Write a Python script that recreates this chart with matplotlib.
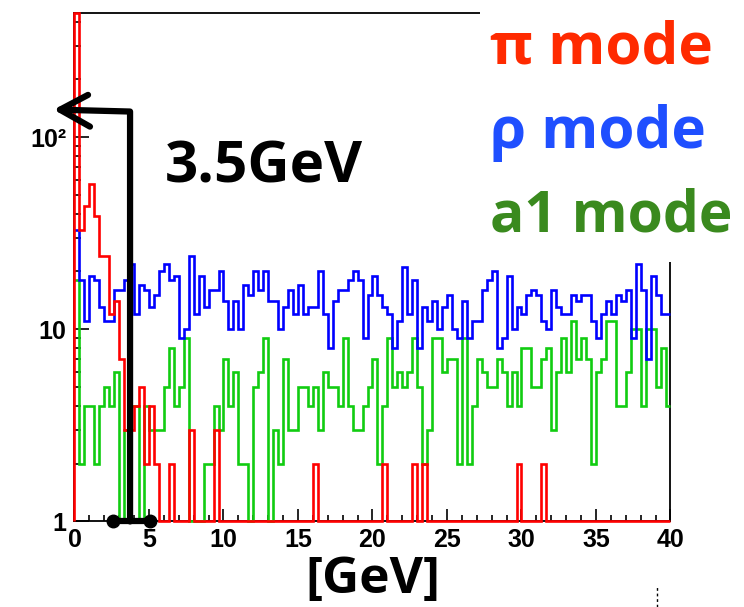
import numpy as np
import matplotlib.pyplot as plt
from matplotlib.patches import Rectangle
from matplotlib.lines import Line2D
from matplotlib.ticker import FixedLocator, NullFormatter

# 120 bins of 1/3 GeV between 0 and 40 GeV
edges = np.linspace(0, 40, 121)

pi_mode = [445, 33, 44, 57, 39, 24, 24, 12, 14, 7,
           3, 3, 4, 5, 2, 4, 2, 1, 1, 2,
           1, 1, 1, 3, 1, 1, 1, 1, 3, 1,
           1, 1, 1, 1, 1, 1, 1, 1, 1, 1,
           1, 1, 1, 1, 1, 1, 1, 1, 2, 1,
           1, 1, 1, 1, 1, 1, 1, 1, 1, 1,
           1, 1, 2, 1, 1, 1, 1, 1, 2, 1,
           2, 1, 1, 1, 1, 1, 1, 1, 1, 1,
           1, 1, 1, 1, 1, 1, 1, 1, 1, 2,
           1, 1, 1, 1, 2, 1, 1, 1, 1, 1,
           1, 1, 1, 1, 1, 1, 1, 1, 1, 1,
           1, 1, 1, 1, 1, 1, 1, 1, 1, 1]

rho_mode = [33, 18, 11, 19, 18, 13, 11, 11, 16, 16,
            18, 22, 12, 17, 16, 13, 15, 20, 22, 18,
            19, 9, 10, 24, 12, 19, 13, 16, 16, 20,
            14, 10, 14, 10, 17, 15, 20, 16, 20, 14,
            14, 10, 13, 16, 12, 17, 12, 13, 13, 20,
            12, 8, 14, 16, 16, 18, 20, 18, 9, 15,
            19, 15, 13, 12, 8, 11, 21, 12, 18, 8,
            13, 11, 14, 10, 13, 15, 10, 9, 14, 9,
            11, 11, 16, 18, 20, 8, 9, 19, 10, 13,
            12, 15, 16, 15, 11, 10, 16, 13, 12, 12,
            15, 14, 15, 15, 11, 9, 12, 14, 12, 15,
            14, 16, 9, 22, 16, 7, 19, 15, 12, 12]

a1_mode = [18, 2, 4, 4, 2, 4, 5, 4, 6, 1,
           3, 4, 4, 1, 4, 3, 3, 3, 5, 8,
           4, 5, 9, 1, 1, 1, 2, 2, 4, 3,
           7, 4, 6, 2, 2, 1, 5, 6, 9, 1,
           3, 2, 7, 3, 3, 5, 5, 4, 5, 3,
           6, 5, 5, 4, 9, 4, 3, 3, 4, 5,
           7, 2, 4, 9, 5, 6, 5, 6, 9, 5,
           2, 3, 9, 9, 6, 7, 7, 2, 9, 2,
           4, 7, 6, 5, 5, 7, 6, 4, 6, 4,
           8, 8, 5, 5, 7, 8, 3, 6, 9, 6,
           11, 7, 9, 7, 2, 6, 7, 11, 11, 4,
           4, 6, 10, 10, 4, 10, 10, 5, 8, 4]

big_font = ['Open Sans', 'DejaVu Sans']
tick_font = ['Liberation Sans', 'DejaVu Sans']

fig = plt.figure(figsize=(7.44, 6.07), dpi=100)
ax = fig.add_axes([0.1001, 0.1409, 0.8011, 0.8377])

ax.stairs(a1_mode, edges, color='#11cc11', lw=1.9, baseline=None, zorder=3, clip_on=False)
ax.stairs(rho_mode, edges, color='#0000ff', lw=1.9, baseline=None, zorder=3.1, clip_on=False)
ax.stairs(pi_mode, edges, color='#ff0000', lw=1.9, baseline=1, zorder=3.2, clip_on=False)

ax.set_yscale('log')
ax.set_xlim(0, 40)
ax.set_ylim(1, 443)

ax.xaxis.set_major_locator(FixedLocator(np.arange(0, 41, 5)))
ax.xaxis.set_minor_locator(FixedLocator(np.arange(0, 41, 1)))
ax.set_yticks([1, 10, 100])
ax.set_yticklabels(['1', '10', '10²'])
ax.yaxis.set_minor_locator(FixedLocator([2, 3, 4, 5, 6, 7, 8, 9, 20, 30, 40, 50, 60, 70, 80, 90, 200, 300, 400]))
ax.yaxis.set_minor_formatter(NullFormatter())
ax.tick_params(which='both', direction='in', top=False, right=False, width=1.2)
ax.tick_params(which='major', axis='x', length=9, pad=5)
ax.tick_params(which='minor', axis='x', length=4)
ax.tick_params(which='major', axis='y', length=11, pad=6)
ax.tick_params(which='minor', axis='y', length=5)
for lab in ax.get_xticklabels() + ax.get_yticklabels():
    lab.set_family(tick_font)
    lab.set_fontweight('bold')
    lab.set_fontsize(18)
for s in ax.spines.values():
    s.set_linewidth(1.3)

ax.set_xlabel('[GeV]', family=big_font, fontweight='bold', fontsize=37, labelpad=2)

# hand drawn arrow marking 3.5 GeV
kw = dict(color='black', lw=4.5, solid_capstyle='round', solid_joinstyle='round', clip_on=False, zorder=5)
ax.plot([3.73, 3.73, -0.97], [1, 136, 139], **kw)
ax.plot([0.91, -0.97, 1.04], [166, 139, 113.5], **kw)
ax.plot([2.56, 5.05], [1, 1], **kw)
ax.plot([2.56, 5.05], [1, 1], 'o', color='black', ms=9, clip_on=False, zorder=5)

# white box behind the mode labels hides part of the frame
fig.patches.append(Rectangle((0.645, 0.5684), 0.355, 0.4316, transform=fig.transFigure,
                             facecolor='white', edgecolor='none', zorder=10))
fig.text(0.659, 0.896, 'π mode', color='#ff2a00', family=big_font, fontweight='bold',
         fontsize=42, va='baseline', zorder=11)
fig.text(0.659, 0.756, 'ρ mode', color='#1f4fff', family=big_font, fontweight='bold',
         fontsize=42, va='baseline', zorder=11)
fig.text(0.659, 0.618, 'a1 mode', color='#3a8a1e', family=big_font, fontweight='bold',
         fontsize=41, va='baseline', zorder=11)
fig.text(0.222, 0.699, '3.5GeV', color='black', family=big_font, fontweight='bold',
         fontsize=42, va='baseline', zorder=11)

fig.add_artist(Line2D([0.883, 0.883], [0.0, 0.035], color='black', lw=1, ls=(0, (2, 2))))

fig.savefig('out.png', dpi=100)
